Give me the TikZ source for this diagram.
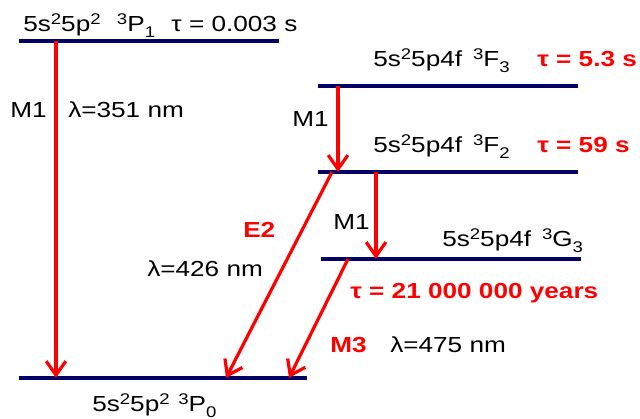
\documentclass[tikz,border=0pt]{standalone}
\usepackage{fontspec}
\setmainfont{Liberation Sans}[FakeStretch=1.2]
\usetikzlibrary{positioning,arrows.meta}

% small raised / lowered figures for term symbols
\newcommand{\up}[1]{\raisebox{0.62ex}{\fontsize{11}{12}\selectfont #1}}
\newcommand{\dn}[1]{\raisebox{-0.45ex}{\fontsize{11}{12}\selectfont #1}}

\begin{document}
\begin{tikzpicture}[x=0.025cm, y=-0.025cm, every node/.style={inner sep=0pt, anchor=base west}]
    % colours
    \definecolor{levelblue}{RGB}{0,0,102}
    \definecolor{transred}{RGB}{255,0,0}

    % styles
    \tikzstyle{level} = [line width=2.3pt, draw=levelblue]
    \tikzstyle{trans} = [line width=2.3pt, draw=transred, -{Straight Barb[length=10pt,width=14pt]}]
    \tikzstyle{term} = [font=\fontsize{15.5}{18}\selectfont]
    \tikzstyle{life} = [font=\fontsize{15.5}{18}\selectfont\bfseries, text=transred]

    \useasboundingbox (0,0) rectangle (640,419);

    % energy levels
    \coordinate (p1l) at (19,41);  \coordinate (p1r) at (279,41);
    \coordinate (f3l) at (318,86); \coordinate (f3r) at (578,86);
    \coordinate (f2l) at (318,172); \coordinate (f2r) at (578,172);
    \coordinate (g3l) at (321,259); \coordinate (g3r) at (581,259);
    \coordinate (p0l) at (19,378); \coordinate (p0r) at (307,378);
    \draw[level] (p1l) -- (p1r);
    \draw[level] (f3l) -- (f3r);
    \draw[level] (f2l) -- (f2r);
    \draw[level] (g3l) -- (g3r);
    \draw[level] (p0l) -- (p0r);

    % level labels
    \node[term] (p1) at (23,32) {5s\up{2}5p\up{2}\hspace{0.75em}\up{3}P\dn{1}\hspace{0.75em}τ = 0.003 s};
    \node[term] (f3) at (373,67) {5s\up{2}5p4f\hspace{0.5em}\up{3}F\dn{3}};
    \node[life] (tf3) at (537,67) {τ = 5.3 s};
    \node[term] (f2) at (373,153) {5s\up{2}5p4f\hspace{0.5em}\up{3}F\dn{2}};
    \node[life] (tf2) at (537,153) {τ = 59 s};
    \node[term] (g3) at (442,247) {5s\up{2}5p4f\hspace{0.5em}\up{3}G\dn{3}};
    \node[life] (tg3) at (350,299) {τ = 21 000 000 years};
    \node[term] (p0) at (92,412) {5s\up{2}5p\up{2}\hspace{0.4em}\up{3}P\dn{0}};

    % transitions
    \coordinate (a1s) at (56,41);   \coordinate (a1e) at (56,378);
    \coordinate (a2s) at (338,86);  \coordinate (a2e) at (338,172);
    \coordinate (a3s) at (376,172); \coordinate (a3e) at (376,259);
    \coordinate (a4s) at (332,172); \coordinate (a4e) at (226,378);
    \coordinate (a5s) at (348,259); \coordinate (a5e) at (289,378);
    \draw[trans] (a1s) -- (a1e);
    \draw[trans] (a2s) -- (a2e);
    \draw[trans] (a3s) -- (a3e);
    \draw[trans] (a4s) -- (a4e);
    \draw[trans] (a5s) -- (a5e);

    % transition labels
    \node[term] (m1a) at (10,118) {M1};
    \node[term] (w1) at (68,118) {λ=351 nm};
    \node[term] (m1b) at (292,127) {M1};
    \node[term] (m1c) at (333,230) {M1};
    \node[life] (e2) at (243,238) {E2};
    \node[term] (w2) at (147,277) {λ=426 nm};
    \node[life] (m3) at (330,353) {M3};
    \node[term] (w3) at (390,353) {λ=475 nm};
\end{tikzpicture}
\end{document}
